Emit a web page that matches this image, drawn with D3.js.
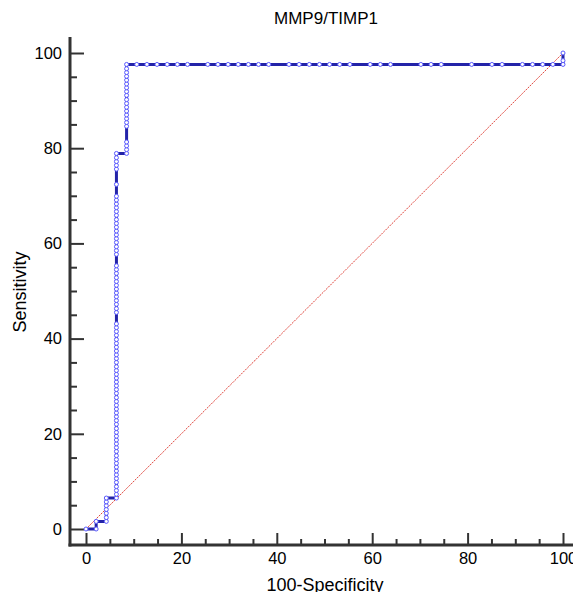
<!DOCTYPE html>
<html><head><meta charset="utf-8">
<script src="https://cdn.jsdelivr.net/npm/d3@7"></script>
<style>html,body{margin:0;padding:0;background:#fff}svg{display:block}text{font-family:Arial,"Liberation Sans",sans-serif;fill:#000}</style>
</head><body>
<script>
const chartTitle = "MMP9/TIMP1";
const xLabel = "100-Specificity";
const yLabel = "Sensitivity";
const majorTicks = [0, 20, 40, 60, 80, 100];
const minorTicks = [5, 10, 15, 25, 30, 35, 45, 50, 55, 65, 70, 75, 85, 90, 95];

// ROC columns: x (100-Specificity) of each vertical run and the sensitivities of its points
const colFpr = [0, 2.13, 4.26, 6.38, 8.51];
const colSens = [
  [0],
  [0, 1.6],
  [1.6, 2.4, 3.3, 4.1, 4.9, 5.7, 6.5],
  [6.5, 7.3, 8.1, 8.9, 9.8, 10.6, 11.4, 12.2, 13.0, 13.8, 14.6, 15.4, 16.3, 17.1, 17.9, 18.7, 19.5, 20.3, 21.1, 22.0, 22.8, 23.6, 24.4, 25.2, 26.0, 26.8, 27.6, 28.5, 29.3, 30.1, 30.9, 31.7, 32.5, 33.3, 34.1, 35.0, 35.8, 36.6, 37.4, 38.2, 39.0, 39.8, 40.7, 41.5, 42.3, 43.1, 45.5, 46.3, 47.2, 48.0, 48.8, 49.6, 50.4, 51.2, 52.0, 52.8, 53.7, 54.5, 55.3, 57.7, 58.5, 59.3, 60.2, 61.0, 61.8, 62.6, 63.4, 64.2, 65.0, 65.9, 66.7, 67.5, 68.3, 69.1, 69.9, 72.4, 75.6, 76.4, 77.2, 78.0, 78.9],
  [78.9, 79.7, 80.5, 81.3, 84.6, 85.4, 86.2, 87.0, 87.8, 88.6, 89.4, 90.2, 91.1, 91.9, 92.7, 93.5, 94.3, 95.1, 95.9, 96.7, 97.6]
];
// top plateau (sensitivity 97.6)
const plateauSens = 97.6;
const plateauFpr = [10.64, 12.77, 14.89, 17.02, 19.15, 21.28, 25.53, 27.66, 29.79, 31.91, 34.04, 36.17, 38.30, 42.55, 44.68, 46.81, 48.94, 51.06, 53.19, 55.32, 59.57, 61.70, 63.83, 70.21, 72.34, 74.47, 80.85, 85.11, 87.23, 91.49, 93.62, 95.74, 97.87, 100];
// final column at 100
const endFpr = 100;
const endSens = [98.4, 100];

const W = 573, H = 592;
const svg = d3.select("body").append("svg").attr("width", W).attr("height", H);
svg.append("rect").attr("width", W).attr("height", H).attr("fill", "#fff");

const x = d3.scaleLinear().domain([0, 100]).range([86, 563]);
const y = d3.scaleLinear().domain([0, 100]).range([529, 53]);
const axisX = 70, axisY = 545;

// build points
const pts = [];
colFpr.forEach((f, i) => colSens[i].forEach(s => pts.push([f, s])));
plateauFpr.forEach(f => pts.push([f, plateauSens]));
endSens.forEach(s => pts.push([endFpr, s]));

// diagonal
svg.append("path")
  .attr("d", d3.line().x(d => x(d[0])).y(d => y(d[1]))([[0, 0], [100, 100]]))
  .attr("stroke", "#e0453c").attr("stroke-width", 1).attr("stroke-dasharray", "2,1").attr("fill", "none");

// Axes
const gy = svg.append("g").attr("transform", `translate(${axisX},0)`);
gy.call(d3.axisLeft(y).tickValues(majorTicks).tickSize(-14).tickPadding(8).tickFormat(d3.format("d")));
const gy2 = svg.append("g").attr("transform", `translate(${axisX},0)`);
gy2.call(d3.axisLeft(y).tickValues(minorTicks).tickSize(-7).tickFormat(""));
const gx = svg.append("g").attr("transform", `translate(0,${axisY})`);
gx.call(d3.axisBottom(x).tickValues(majorTicks).tickSize(-12).tickPadding(7).tickFormat(d3.format("d")));
const gx2 = svg.append("g").attr("transform", `translate(0,${axisY})`);
gx2.call(d3.axisBottom(x).tickValues(minorTicks).tickSize(-6).tickFormat(""));
svg.selectAll(".domain").remove();
svg.selectAll(".tick line").attr("stroke", "#333").attr("stroke-width", 2);
svg.selectAll(".tick text").attr("font-size", 16.5).attr("fill", "#111").style("font-family", "Arial, 'Liberation Sans', sans-serif");

svg.append("line").attr("x1", axisX).attr("x2", axisX).attr("y1", 37).attr("y2", axisY + 1.5)
  .attr("stroke", "#333").attr("stroke-width", 3);
svg.append("line").attr("x1", axisX - 1.5).attr("x2", W).attr("y1", axisY).attr("y2", axisY)
  .attr("stroke", "#333").attr("stroke-width", 3);

// ROC line
svg.append("path")
  .attr("d", d3.line().x(d => x(d[0])).y(d => y(d[1]))(pts))
  .attr("fill", "none").attr("stroke", "#2323a8").attr("stroke-width", 3);
svg.append("g").selectAll("circle").data(pts).join("circle")
  .attr("cx", d => x(d[0])).attr("cy", d => y(d[1])).attr("r", 2)
  .attr("fill", "#fff").attr("stroke", "#5b5bff").attr("stroke-width", 1);

// Titles
svg.append("text").attr("x", 326).attr("y", 24).attr("text-anchor", "middle").attr("font-size", 17).text(chartTitle);
svg.append("text").attr("x", 325).attr("y", 591).attr("text-anchor", "middle").attr("font-size", 18).text(xLabel);
svg.append("text").attr("transform", "translate(26,292) rotate(-90)").attr("text-anchor", "middle").attr("font-size", 18).text(yLabel);
</script>
</body></html>
